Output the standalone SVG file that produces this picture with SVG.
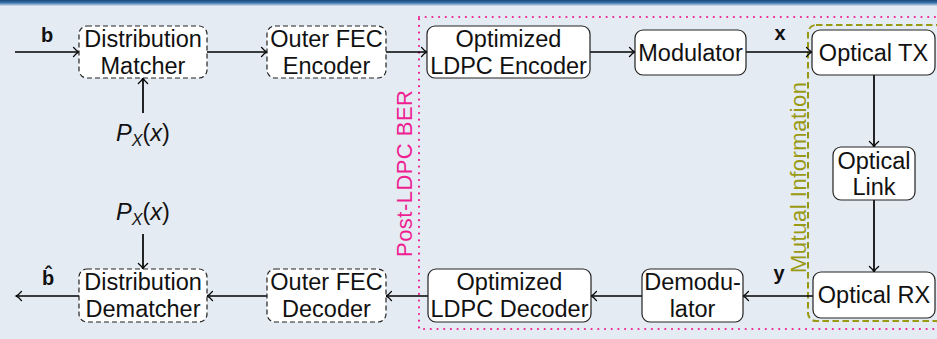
<svg xmlns="http://www.w3.org/2000/svg" width="937" height="339" viewBox="0 0 937 339">
  <defs>
    <linearGradient id="topbar" x1="0" y1="0" x2="0" y2="1">
      <stop offset="0" stop-color="#174a7e"/>
      <stop offset="0.45" stop-color="#3a72a8"/>
      <stop offset="0.8" stop-color="#9db9d6"/>
      <stop offset="1" stop-color="#dbe5ef"/>
    </linearGradient>
    <marker id="arrow" markerWidth="12" markerHeight="12" refX="0" refY="0" viewBox="-7 -6 8 12" orient="auto" markerUnits="userSpaceOnUse">
      <path d="M-5.5,-4.6 C-3.6,-2.2 -1.8,-0.8 0,0 C-1.8,0.8 -3.6,2.2 -5.5,4.6" fill="none" stroke="#000" stroke-width="1.3" stroke-linecap="round"/>
    </marker>
    <style>
      .box { fill: #ffffff; stroke: #222222; stroke-width: 1.2; }
      .dashed { stroke-dasharray: 5 3; }
      .lbl { font-family: "Liberation Sans", Arial, sans-serif; font-size: 23.5px; fill: #111111; text-anchor: middle; }
      .sym { font-family: "Liberation Sans", Arial, sans-serif; font-size: 20px; font-weight: bold; fill: #111111; text-anchor: middle; }
      .math { font-family: "Liberation Sans", Arial, sans-serif; font-size: 23.5px; fill: #111111; text-anchor: middle; }
      .conn { fill: none; stroke: #000000; stroke-width: 1.7; marker-end: url(#arrow); }
      .region-label { font-family: "Liberation Sans", Arial, sans-serif; font-size: 22px; text-anchor: middle; }
    </style>
  </defs>

  <!-- page background and title bar edge -->
  <rect x="0" y="0" width="937" height="339" fill="#e4ebf2"/>
  <rect x="0" y="0" width="937" height="6" fill="url(#topbar)"/>

  <!-- measurement regions -->
  <g id="post-ldpc-region">
    <rect x="419" y="17" width="540" height="312" fill="none" stroke="#ef1f92" stroke-width="2.2" stroke-linecap="round" stroke-dasharray="0 6.7"/>
    <text class="region-label" x="412" y="173.5" transform="rotate(-90 412 173.5)" fill="#ef1f92" textLength="167" lengthAdjust="spacing">Post-LDPC BER</text>
  </g>
  <g id="mutual-info-region">
    <rect x="808" y="25" width="150" height="296" rx="8" fill="none" stroke="#9a9912" stroke-width="2" stroke-dasharray="6.5 3.5"/>
    <text class="region-label" x="806" y="177.5" transform="rotate(-90 806 177.5)" fill="#9a9912" textLength="191" lengthAdjust="spacing">Mutual Information</text>
  </g>

  <!-- connectors -->
  <g id="connectors">
    <path class="conn" d="M15,52 H79"/>
    <path class="conn" d="M207,52 H267"/>
    <path class="conn" d="M386,52 H427"/>
    <path class="conn" d="M590,52 H635"/>
    <path class="conn" d="M746,52 H812"/>
    <path class="conn" d="M874,75 V147"/>
    <path class="conn" d="M874,200 V272"/>
    <path class="conn" d="M813,296 H743"/>
    <path class="conn" d="M642,296 H591"/>
    <path class="conn" d="M428,296 H386"/>
    <path class="conn" d="M267,296 H207"/>
    <path class="conn" d="M79,296 H16"/>
    <path class="conn" d="M143,113 V78"/>
    <path class="conn" d="M143,234 V269"/>
  </g>

  <!-- signal labels -->
  <g id="labels">
    <text class="sym" x="47" y="42">b</text>
    <text class="sym" x="48" y="285">b&#x302;</text>
    <text class="sym" x="780" y="40">x</text>
    <text class="sym" x="779" y="280">y</text>
    <text class="math" x="143" y="141"><tspan font-style="italic">P</tspan><tspan font-style="italic" font-size="16" dy="5">X</tspan><tspan dy="-5">(</tspan><tspan font-style="italic">x</tspan>)</text>
    <text class="math" x="143" y="220"><tspan font-style="italic">P</tspan><tspan font-style="italic" font-size="16" dy="5">X</tspan><tspan dy="-5">(</tspan><tspan font-style="italic">x</tspan>)</text>
  </g>

  <!-- transmitter chain -->
  <g id="distribution-matcher">
    <rect class="box dashed" x="79" y="26" width="128" height="52" rx="8"/>
    <text class="lbl" x="143" y="47">Distribution</text>
    <text class="lbl" x="143" y="74">Matcher</text>
  </g>
  <g id="outer-fec-encoder">
    <rect class="box dashed" x="267" y="26" width="119" height="52" rx="8"/>
    <text class="lbl" x="326.5" y="47">Outer FEC</text>
    <text class="lbl" x="326.5" y="74">Encoder</text>
  </g>
  <g id="ldpc-encoder">
    <rect class="box" x="427" y="26" width="163" height="52" rx="8"/>
    <text class="lbl" x="508.5" y="47">Optimized</text>
    <text class="lbl" x="508.5" y="74">LDPC Encoder</text>
  </g>
  <g id="modulator">
    <rect class="box" x="635" y="30" width="111" height="45" rx="8"/>
    <text class="lbl" x="690.5" y="61">Modulator</text>
  </g>
  <g id="optical-tx">
    <rect class="box" x="812" y="30" width="123" height="45" rx="8"/>
    <text class="lbl" x="873.5" y="61">Optical TX</text>
  </g>

  <!-- channel -->
  <g id="optical-link">
    <rect class="box" x="833" y="147" width="82" height="53" rx="8"/>
    <text class="lbl" x="874" y="169">Optical</text>
    <text class="lbl" x="874" y="195">Link</text>
  </g>

  <!-- receiver chain -->
  <g id="optical-rx">
    <rect class="box" x="813" y="272" width="122" height="46" rx="8"/>
    <text class="lbl" x="874" y="303">Optical RX</text>
  </g>
  <g id="demodulator">
    <rect class="box" x="642" y="269" width="101" height="53" rx="8"/>
    <text class="lbl" x="692.5" y="290">Demodu-</text>
    <text class="lbl" x="692.5" y="317">lator</text>
  </g>
  <g id="ldpc-decoder">
    <rect class="box" x="428" y="269" width="163" height="53" rx="8"/>
    <text class="lbl" x="509.5" y="290">Optimized</text>
    <text class="lbl" x="509.5" y="317">LDPC Decoder</text>
  </g>
  <g id="outer-fec-decoder">
    <rect class="box dashed" x="267" y="269" width="119" height="53" rx="8"/>
    <text class="lbl" x="326.5" y="290">Outer FEC</text>
    <text class="lbl" x="326.5" y="317">Decoder</text>
  </g>
  <g id="distribution-dematcher">
    <rect class="box dashed" x="79" y="269" width="128" height="53" rx="8"/>
    <text class="lbl" x="143" y="290">Distribution</text>
    <text class="lbl" x="143" y="317">Dematcher</text>
  </g>
</svg>
